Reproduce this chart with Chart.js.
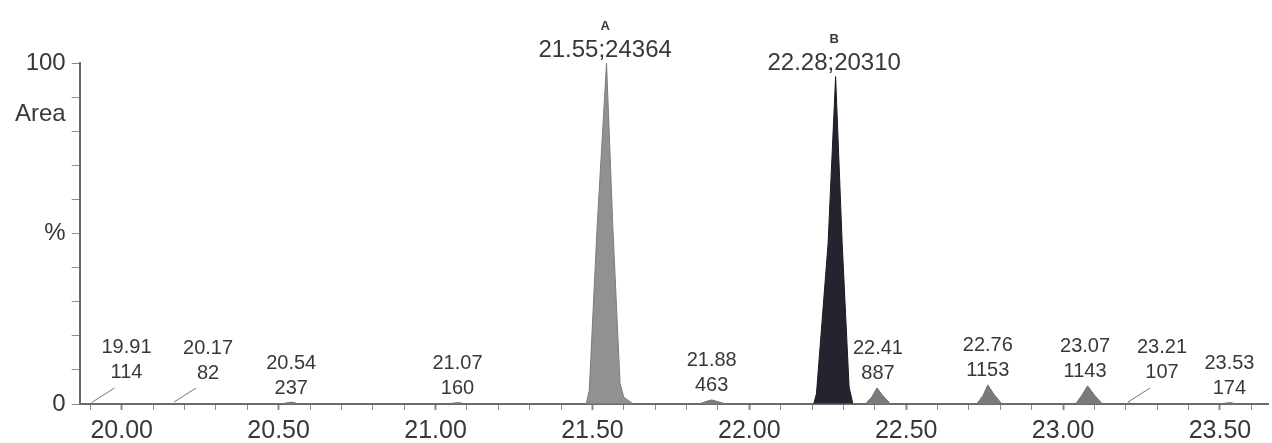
<!DOCTYPE html>
<html>
<head>
<meta charset="utf-8">
<script src="https://cdn.jsdelivr.net/npm/chart.js@4.4.1/dist/chart.umd.min.js"></script>
<style>
  html, body { margin: 0; padding: 0; background: #fff; }
  #wrap { width: 1272px; height: 443px; }
</style>
</head>
<body>
<div id="wrap"><canvas id="chrom"></canvas></div>
<script>
// retention time (min) and relative intensity (%)
var traceTime = [19.866, 19.895, 19.905, 19.915, 19.93, 20.15, 20.168, 20.185, 20.51, 20.53, 20.545, 20.565,
                 21.04, 21.06, 21.075, 21.095, 21.84, 21.865, 21.88, 21.895, 21.925,
                 22.37, 22.39, 22.407, 22.425, 22.45, 22.725, 22.745, 22.76, 22.78, 22.805,
                 23.04, 23.06, 23.078, 23.1, 23.125, 23.195, 23.21, 23.225,
                 23.5, 23.52, 23.535, 23.55, 23.653];
var traceInt  = [0, 0, 0.3, 0, 0, 0, 0.2, 0, 0, 0.4, 0.5, 0,
                 0, 0.3, 0.4, 0, 0, 0.8, 1.2, 0.8, 0,
                 0, 2.0, 4.7, 2.5, 0, 0, 2.5, 5.6, 2.8, 0,
                 0, 2.6, 5.3, 2.6, 0, 0, 0.3, 0,
                 0, 0.3, 0.4, 0, 0];

var peakATime = [21.48, 21.49, 21.515, 21.545, 21.565, 21.588, 21.60, 21.63];
var peakAInt  = [0, 4, 52, 100, 52, 6, 2, 0];

var peakBTime = [22.205, 22.214, 22.251, 22.275, 22.296, 22.318, 22.33];
var peakBInt  = [0, 3, 47, 96, 47, 5, 0];

var minorRT   = ['19.91', '20.17', '20.54', '21.07', '21.88', '22.41', '22.76', '23.07', '23.21', '23.53'];
var minorArea = ['114', '82', '237', '160', '463', '887', '1153', '1143', '107', '174'];
var minorLeader = [1, 1, 0, 0, 0, 0, 0, 0, 1, 0];

var mainName = ['A', 'B'];
var mainRT   = ['21.55', '22.28'];
var mainArea = ['24364', '20310'];

var yTickValues = [0, 10, 20, 30, 40, 50, 60, 70, 80, 85, 90, 100];
var yTickText = { 0: '0', 50: '%', 85: 'Area', 100: '100' };

function pts(t, v) {
  return t.map(function (x, i) { return { x: x, y: v[i] }; });
}

function apexNear(t) {
  var best = 0;
  traceTime.forEach(function (x, i) {
    if (Math.abs(x - t) < 0.03 && traceInt[i] > best) best = traceInt[i];
  });
  return best;
}

var FONT = '"Liberation Sans", Arial, sans-serif';

var peakLabels = {
  id: 'peakLabels',
  afterDatasetsDraw: function (chart) {
    var ctx = chart.ctx, xs = chart.scales.x, ys = chart.scales.y;
    ctx.save();
    ctx.fillStyle = '#383838';
    ctx.strokeStyle = '#777';
    ctx.lineWidth = 1;
    ctx.textAlign = 'center';
    ctx.textBaseline = 'middle';

    ctx.font = '20px ' + FONT;
    minorRT.forEach(function (rt, i) {
      var t = parseFloat(rt);
      var px = xs.getPixelForValue(t);
      var py = ys.getPixelForValue(apexNear(t)) - 14;
      if (minorLeader[i]) {
        var base = ys.getPixelForValue(0);
        ctx.beginPath();
        ctx.moveTo(px - 1, base - 2);
        ctx.lineTo(px + 21, base - 16);
        ctx.stroke();
        px += 33;
        py -= 16;
      }
      ctx.fillText(minorArea[i], px, py);
      ctx.fillText(rt, px, py - 25);
    });

    var apex = [Math.max.apply(null, peakAInt), Math.max.apply(null, peakBInt)];
    mainRT.forEach(function (rt, i) {
      var px = xs.getPixelForValue(parseFloat(rt)) - 3;
      var py = ys.getPixelForValue(apex[i]) - 13;
      ctx.font = '24px ' + FONT;
      ctx.fillText(rt + ';' + mainArea[i], px, py);
      ctx.font = 'bold 13px ' + FONT;
      ctx.fillText(mainName[i], px, py - 24);
    });
    ctx.restore();
  }
};

new Chart(document.getElementById('chrom'), {
  type: 'scatter',
  data: {
    datasets: [{
      data: pts(traceTime, traceInt),
      showLine: true,
      fill: 'origin',
      borderColor: '#6e6e6e',
      backgroundColor: '#7a7a7a',
      borderWidth: 1,
      pointRadius: 0
    }, {
      data: pts(peakATime, peakAInt),
      showLine: true,
      fill: 'origin',
      borderColor: '#7c7c7c',
      backgroundColor: '#919191',
      borderWidth: 1,
      pointRadius: 0
    }, {
      data: pts(peakBTime, peakBInt),
      showLine: true,
      fill: 'origin',
      borderColor: '#1a1a24',
      backgroundColor: '#24242f',
      borderWidth: 1,
      pointRadius: 0
    }]
  },
  options: {
    responsive: true,
    maintainAspectRatio: false,
    animation: false,
    layout: { padding: { top: 63, left: 9, right: 4, bottom: -10 } },
    plugins: { legend: { display: false }, tooltip: { enabled: false } },
    elements: { line: { tension: 0 } },
    scales: {
      x: {
        type: 'linear',
        min: 19.866,
        max: 23.653,
        border: { color: '#6a6a6a', width: 2 },
        grid: {
          drawOnChartArea: false,
          tickLength: 6,
          tickColor: '#8a8a8a',
          tickWidth: function (c) {
            var v = c.tick ? c.tick.value : 0;
            return Math.abs(v * 2 - Math.round(v * 2)) < 1e-6 ? 2 : 1;
          }
        },
        ticks: {
          stepSize: 0.1,
          includeBounds: false,
          autoSkip: false,
          maxRotation: 0,
          padding: 9,
          color: '#383838',
          font: { family: FONT, size: 25, lineHeight: 1 },
          callback: function (v) {
            return Math.abs(v * 2 - Math.round(v * 2)) < 1e-6 ? v.toFixed(2) : '';
          }
        }
      },
      y: {
        min: 0,
        max: 100,
        border: { color: '#6a6a6a', width: 2 },
        afterBuildTicks: function (s) {
          s.ticks = yTickValues.map(function (v) { return { value: v }; });
        },
        grid: {
          drawOnChartArea: false,
          tickLength: 8,
          tickColor: function (c) {
            return c.tick && c.tick.value === 85 ? 'rgba(0,0,0,0)' : '#8a8a8a';
          }
        },
        ticks: {
          autoSkip: false,
          padding: 6,
          color: '#383838',
          font: { family: FONT, size: 24 },
          callback: function (v) {
            return yTickText[v] !== undefined ? yTickText[v] : '';
          }
        }
      }
    }
  },
  plugins: [peakLabels]
});
</script>
</body>
</html>
